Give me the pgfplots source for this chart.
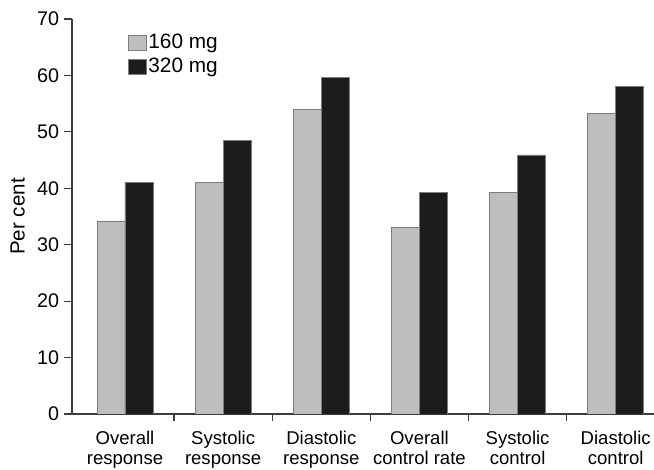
\documentclass[border=0pt]{standalone}
\usepackage{fontspec}
\setmainfont{Liberation Sans}
\usepackage{pgfplots}
\pgfplotsset{compat=1.18}
\usetikzlibrary{calc}
\definecolor{lgray}{RGB}{190,190,193}
\definecolor{dblack}{RGB}{30,27,29}
\definecolor{edgegray}{RGB}{125,125,128}
\definecolor{axisgray}{RGB}{60,60,60}
\begin{document}
\begin{tikzpicture}
\begin{axis}[
  name=ax,
  at={(0,0)}, anchor=origin,
  scale only axis,
  width=436.5pt, height=296.25pt,
  ybar=0pt, bar width=0.285,
  xmin=-0.54, xmax=5.39,
  ymin=0, ymax=70,
  ytick={0,10,...,70},
  xtick={0,1,2,3,4,5},
  xticklabels={{Overall\\response},{Systolic\\response},{Diastolic\\response},{Overall\\control rate},{Systolic\\control},{Diastolic\\control}},
  minor xtick={0.5,1.5,2.5,3.5,4.5},
  axis x line=bottom, axis y line=left,
  axis line style={-, draw=axisgray, line width=0.9pt},
  tick align=outside,
  major tick length=6pt, minor tick length=5.5pt,
  tick style={draw=axisgray, line width=0.9pt},
  major x tick style={draw=none},
  /pgf/number format/assume math mode=true,
  yticklabel style={font=\fontsize{14.8}{16}\selectfont, inner sep=0pt, xshift=-3.4pt},
  xticklabel style={font=\fontsize{13.9}{15.5}\selectfont, align=center, inner sep=0pt, anchor=north, yshift=-6.4pt},
  every axis y label/.style={at={(axis description cs:-0.0808,0.5)}, rotate=90, anchor=south, inner sep=0pt, font=\fontsize{15.4}{17}\selectfont},
  ylabel={Per cent},
  legend style={draw=none, fill=none, at={(axis description cs:0.0962,0.962)}, anchor=north west, inner sep=0pt, font=\fontsize{15.6}{17}\selectfont, row sep=5.6pt, column sep=1pt, nodes={inner sep=0pt}},
  legend cell align=left,
  legend image code/.code={\draw[#1] (0pt,-5.6pt) rectangle (13.5pt,5.6pt);},
]
\addplot[fill=lgray, draw=edgegray, line width=0.6pt] coordinates {(0,34.2) (1,41.1) (2,54.0) (3,33.1) (4,39.2) (5,53.2)};
\addplot[fill=dblack, draw=edgegray, line width=0.6pt] coordinates {(0,41.1) (1,48.4) (2,59.7) (3,39.3) (4,45.9) (5,58.1)};
\legend{160 mg, 320 mg}
\end{axis}
\pgfresetboundingbox
\path ($(ax.south west)+(-54pt,-42pt)$) rectangle ($(ax.north east)+(0pt,14.25pt)$);
\end{tikzpicture}
\end{document}
